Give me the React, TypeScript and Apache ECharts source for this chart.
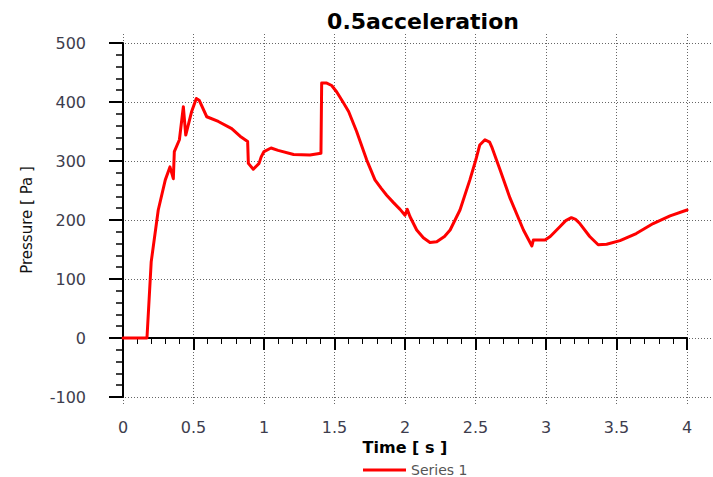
import React, { useEffect, useRef } from "react";
import * as echarts from "echarts";

const times = [
  0, 0.17, 0.2, 0.25, 0.3, 0.333, 0.357, 0.364, 0.4, 0.428, 0.445, 0.487, 0.52, 0.54, 0.594, 0.676,
  0.771, 0.83, 0.884, 0.889, 0.924, 0.965, 0.98, 1.0, 1.05, 1.1, 1.21, 1.326, 1.404, 1.409, 1.445,
  1.48, 1.516, 1.56, 1.6, 1.657, 1.728, 1.787, 1.83, 1.87, 1.92, 1.965, 2.0, 2.016, 2.035, 2.083,
  2.13, 2.177, 2.225, 2.28, 2.32, 2.39, 2.46, 2.5, 2.53, 2.567, 2.6, 2.615, 2.674, 2.745, 2.84,
  2.9, 2.91, 2.993, 3.03, 3.1, 3.14, 3.18, 3.21, 3.24, 3.31, 3.37, 3.43, 3.525, 3.64, 3.76, 3.88,
  4.0,
];
const pressures = [
  0, 0, 129, 217, 268, 290, 270, 316, 336, 392, 344, 384, 406, 403, 375, 367,
  355, 342, 333, 296, 286, 296, 307, 316, 322, 318, 311, 310, 313, 432, 432,
  428, 417, 400, 384, 350, 302, 268, 254, 242, 229, 218, 208, 218, 206, 183,
  170, 162, 163, 172, 183, 217, 268, 300, 327, 336, 332, 324, 285, 237, 183,
  156, 166, 166, 172, 189, 199, 204, 201, 194, 172, 158, 159, 165, 177, 194, 207,
  217,
];
const seriesName = "Series 1";
const titleText = "0.5acceleration";
const xName = "Time [ s ]";
const yName = "Pressure [ Pa ]";

export default function App() {
  const ref = useRef<HTMLDivElement>(null);
  useEffect(() => {
    if (!ref.current) return;
    const chart = echarts.init(ref.current, null, { renderer: "svg" });
    const font = "DejaVu Sans";
    const labelColor = "#3d3d4d";
    const gridLine = { show: true, lineStyle: { color: "#666", width: 1, type: [1, 2] as any } };
    const hidden = { axisLine: { show: false }, axisTick: { show: false }, axisLabel: { show: false } };
    chart.setOption({
      animation: false,
      backgroundColor: "#fff",
      title: {
        text: titleText,
        left: 418,
        textAlign: "center",
        top: 5,
        textStyle: { fontFamily: font, fontWeight: "bold", fontSize: 22, color: "#000" },
      },
      legend: {
        data: [seriesName],
        icon: "rect",
        itemWidth: 43,
        itemHeight: 3,
        left: 358,
        top: 458,
        textStyle: { fontFamily: font, fontSize: 14, color: "#555" },
      },
      grid: [
        { left: 123, right: 26, top: 43, bottom: 80 },
        { left: 116, right: 0, top: 43, bottom: 80 },
        { left: 123, right: 26, top: 34, bottom: 73 },
      ],
      xAxis: [
        {
          type: "value",
          gridIndex: 0,
          min: 0,
          max: 4,
          interval: 0.5,
          offset: 7,
          name: xName,
          nameLocation: "middle",
          nameGap: 29,
          nameTextStyle: { fontFamily: font, fontWeight: "bold", fontSize: 16, color: "#000" },
          axisLine: { show: true, lineStyle: { color: "#000", width: 2 } },
          axisTick: { show: true, length: 12, lineStyle: { color: "#000", width: 2 } },
          minorTick: { show: true, splitNumber: 5, length: 6, lineStyle: { color: "#000", width: 1 } },
          axisLabel: { margin: 15, fontFamily: font, fontSize: 16, color: labelColor },
          splitLine: { show: false },
        },
        { type: "value", gridIndex: 1, min: 0, max: 4, splitLine: { show: false }, ...hidden },
        { type: "value", gridIndex: 2, min: 0, max: 4, interval: 0.5, splitLine: gridLine, ...hidden },
      ],
      yAxis: [
        {
          type: "value",
          gridIndex: 0,
          min: -100,
          max: 500,
          interval: 100,
          offset: 12,
          name: yName,
          nameLocation: "middle",
          nameRotate: 90,
          nameGap: 77,
          nameTextStyle: { fontFamily: font, fontSize: 15, color: "#111" },
          axisLine: { show: true, lineStyle: { color: "#000", width: 2 } },
          axisTick: { show: true, length: 14, lineStyle: { color: "#000", width: 2 } },
          minorTick: { show: true, splitNumber: 5, length: 7, lineStyle: { color: "#000", width: 1.5 } },
          axisLabel: { margin: 25, fontFamily: font, fontSize: 16, color: labelColor },
          splitLine: { show: false },
        },
        { type: "value", gridIndex: 1, min: -100, max: 500, interval: 100, splitLine: gridLine, ...hidden },
        { type: "value", gridIndex: 2, min: -100, max: 500, splitLine: { show: false }, ...hidden },
      ],
      series: [
        {
          name: seriesName,
          type: "line",
          xAxisIndex: 0,
          yAxisIndex: 0,
          showSymbol: false,
          symbol: "none",
          color: "#ff0000",
          lineStyle: { color: "#ff0000", width: 3, join: "round", cap: "round" },
          data: times.map((t, i) => [t, pressures[i]]),
          z: 5,
        },
      ],
    });
    return () => chart.dispose();
  }, []);
  return (
    <div
      ref={ref}
      style={{ position: "fixed", left: 0, top: 0, width: 713, height: 477, background: "#fff" }}
    />
  );
}
